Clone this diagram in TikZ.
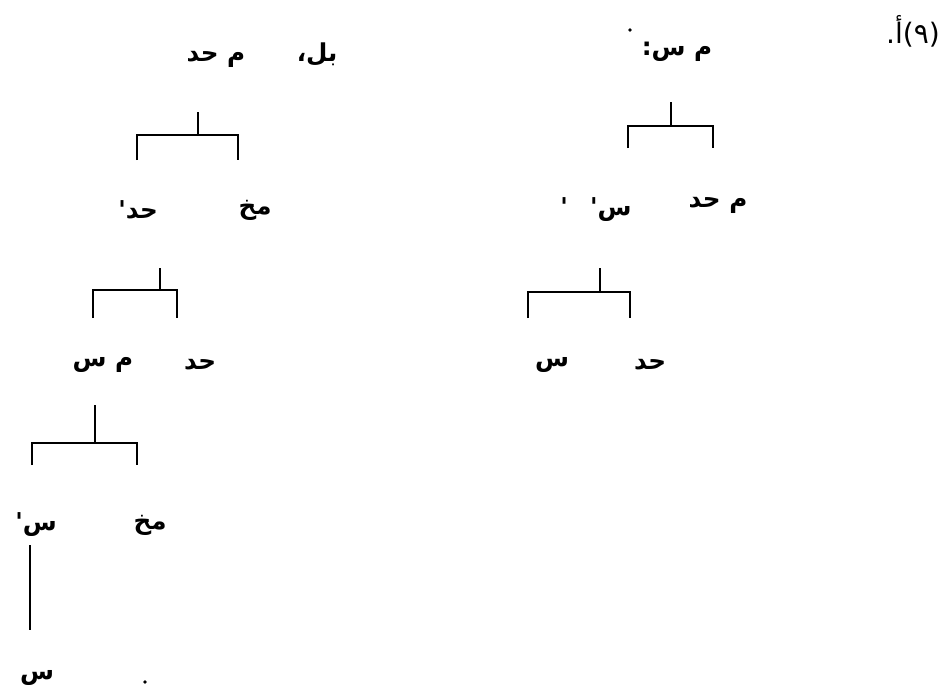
\documentclass[tikz,border=0pt]{standalone}
\usepackage{fontspec}
\newfontfamily\arabicfont[Script=Arabic]{DejaVu Sans}
\newfontfamily\plainfont{DejaVu Sans}
\TeXXeTstate=1
\newcommand{\artext}[1]{{\arabicfont\bfseries\beginR #1\endR}}

\begin{document}
\begin{tikzpicture}[x=0.03cm,y=-0.03cm,
	lbl/.style={inner sep=0pt,font=\fontsize{21}{23}\selectfont},
	branch/.style={line width=1.9pt}]
	\useasboundingbox (0,0) rectangle (944,691);
	
	% item number
	\node[lbl,font=\fontsize{24}{26}\selectfont] (num) at (913,31) {\plainfont (٩)أ.};
	
	% left tree: labels
	\node[lbl] (L0) at (262,55) {\artext{بل،\hspace{2.1em}م حد}};
	\node[lbl] (L1a) at (138,210) {\artext{حد'}};
	\node[lbl] (L1b) at (255,210) {\artext{مخ}};
	\node[lbl] (L2a) at (103,365) {\artext{م س}};
	\node[lbl] (L2b) at (200,365) {\artext{حد}};
	\node[lbl] (L3a) at (36,525) {\artext{س'}};
	\node[lbl] (L3b) at (150,525) {\artext{مخ}};
	\node[lbl] (L4) at (37,678) {\artext{س}};
	\fill (145,682) circle (1.8);
	
	% right tree: labels
	\node[lbl] (R0) at (677,52) {\artext{م س:}};
	\fill (630,30) circle (1.8);
	\node[lbl] (R1a) at (596,210) {\artext{س'\hspace{0.9em}'}};
	\node[lbl] (R1b) at (718,205) {\artext{م حد}};
	\node[lbl] (R2a) at (552,365) {\artext{س}};
	\node[lbl] (R2b) at (650,365) {\artext{حد}};
	
	% bracket points, left tree
	\coordinate (lt0) at (198,112); \coordinate (lj0) at (198,135);
	\coordinate (ll0) at (137,160); \coordinate (lr0) at (238,160);
	\coordinate (lt1) at (160,268); \coordinate (lj1) at (160,290);
	\coordinate (ll1) at (93,318);  \coordinate (lr1) at (177,318);
	\coordinate (lt2) at (95,405);  \coordinate (lj2) at (95,443);
	\coordinate (ll2) at (32,465);  \coordinate (lr2) at (137,465);
	\coordinate (lt3) at (30,545);  \coordinate (lb3) at (30,630);
	
	% bracket points, right tree
	\coordinate (rt0) at (671,102); \coordinate (rj0) at (671,126);
	\coordinate (rl0) at (628,148); \coordinate (rr0) at (713,148);
	\coordinate (rt1) at (600,268); \coordinate (rj1) at (600,292);
	\coordinate (rl1) at (528,318); \coordinate (rr1) at (630,318);
	
	% branches
	\draw[branch] (lt0) -- (lj0); \draw[branch] (ll0) |- (lj0) -| (lr0);
	\draw[branch] (lt1) -- (lj1); \draw[branch] (ll1) |- (lj1) -| (lr1);
	\draw[branch] (lt2) -- (lj2); \draw[branch] (ll2) |- (lj2) -| (lr2);
	\draw[branch] (lt3) -- (lb3);
	\draw[branch] (rt0) -- (rj0); \draw[branch] (rl0) |- (rj0) -| (rr0);
	\draw[branch] (rt1) -- (rj1); \draw[branch] (rl1) |- (rj1) -| (rr1);
	
\end{tikzpicture}
\end{document}
